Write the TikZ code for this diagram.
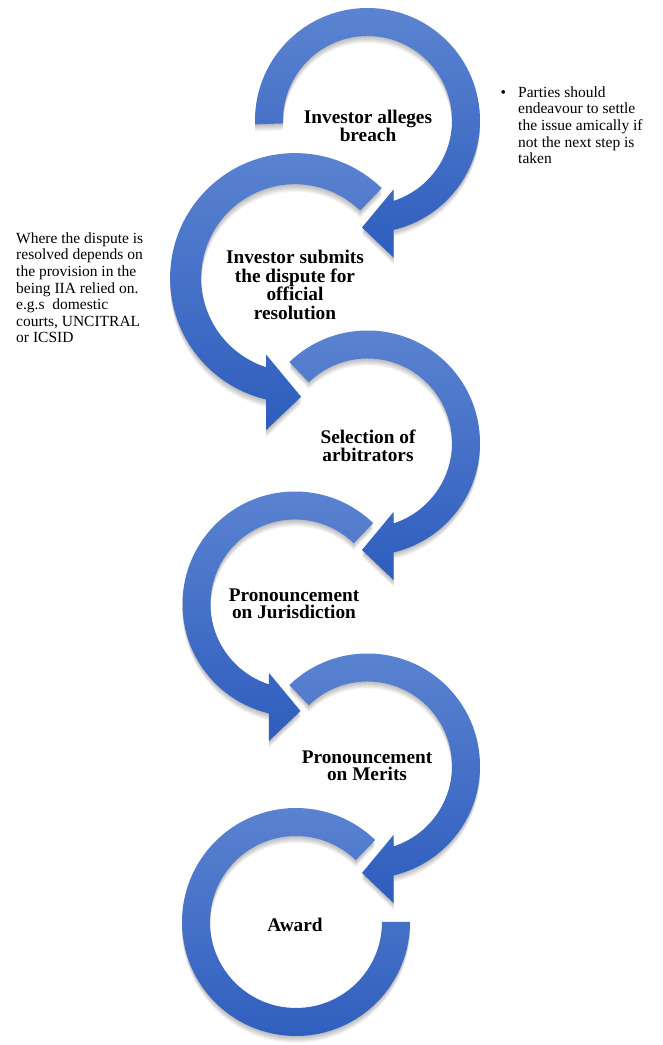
\documentclass[tikz,border=0pt]{standalone}
\usepackage{fontspec}
\setmainfont{Liberation Serif}
\usetikzlibrary{positioning}

\definecolor{ringtop}{RGB}{92,132,209}
\definecolor{ringbottom}{RGB}{46,93,189}

% ring with arrow head at the bottom, opened at angle #1
\newcommand{\arrowring}[1]{(#1:112.5) arc[start angle=#1, end angle=-76.6, radius=112.5] -- (26,-137) -- (-5.5,-107) -- (26,-69) -- (-72:84.5) arc[start angle=-72, end angle=#1, radius=84.5] -- cycle}
% last ring, no head
\newcommand{\plainring}{(46:114) arc[start angle=46, end angle=360, radius=114] -- (0:86) arc[start angle=360, end angle=46, radius=86] -- cycle}

\begin{document}
\begin{tikzpicture}[x=1pt, y=1pt,
    ring/.style={top color=ringtop, bottom color=ringbottom, draw=none},
    ringshadow/.style={fill=black, opacity=0.04, draw=none},
    steplabel/.style={font=\fontsize{19.3}{17.5}\selectfont\bfseries, align=center, inner sep=0pt},
    note/.style={font=\fontsize{15.5}{16.6}\selectfont, inner sep=0pt, anchor=north west}]
    \path[fill=white] (0,0) rectangle (662,1045);
    \useasboundingbox (0,0) rectangle (662,1045);

    % step 1
    \begin{scope}[shift={(367.5,924.5)}]
        \foreach \k in {1,...,7}
            \fill[ringshadow, yshift=-\k pt] \arrowring{182};
        \path[ring] \arrowring{182};
    \end{scope}
    % step 2
    \begin{scope}[shift={(295,767)}, xscale=-1.11, yscale=1.11]
        \foreach \k in {1,...,7}
            \fill[ringshadow, yshift=-\k pt] \arrowring{134};
        \path[ring] \arrowring{134};
    \end{scope}
    % step 3
    \begin{scope}[shift={(367.5,602)}]
        \foreach \k in {1,...,7}
            \fill[ringshadow, yshift=-\k pt] \arrowring{134};
        \path[ring] \arrowring{134};
    \end{scope}
    % step 4
    \begin{scope}[shift={(295,441)}, xscale=-1]
        \foreach \k in {1,...,7}
            \fill[ringshadow, yshift=-\k pt] \arrowring{134};
        \path[ring] \arrowring{134};
    \end{scope}
    % step 5
    \begin{scope}[shift={(367.5,279)}]
        \foreach \k in {1,...,7}
            \fill[ringshadow, yshift=-\k pt] \arrowring{134};
        \path[ring] \arrowring{134};
    \end{scope}
    % step 6
    \begin{scope}[shift={(296,123)}]
        \foreach \k in {1,...,7}
            \fill[ringshadow, yshift=-\k pt] \plainring;
        \path[ring] \plainring;
    \end{scope}

    \node[steplabel] at (368,919)(breach){Investor alleges\\breach};
    \node[steplabel, font=\fontsize{19.3}{18.5}\selectfont\bfseries] at (295,760)(submits){Investor submits\\the dispute for\\official\\resolution};
    \node[steplabel] at (368,599)(selection){Selection of\\arbitrators};
    \node[steplabel] at (294,441)(jurisdiction){Pronouncement\\on Jurisdiction};
    \node[steplabel] at (367,279)(merits){Pronouncement\\on Merits};
    \node[steplabel] at (295,120.5)(award){Award};

    \node[note] at (500.3,959.6)(amicable){\begin{tabular}{@{}l@{\hspace{12.3pt}}l@{}}
        \textbullet & Parties should\\
        & endeavour to settle\\
        & the issue amically if\\
        & not the next step is\\
        & taken
    \end{tabular}};
    % bullet sits mostly off the page
    \node[note] at (-4.6,813.6)(forum){\begin{tabular}{@{}l@{\hspace{15.2pt}}l@{}}
        \textbullet & Where the dispute is\\
        & resolved depends on\\
        & the provision in the\\
        & being IIA relied on.\\
        & e.g.s\ \ domestic\\
        & courts, UNCITRAL\\
        & or ICSID
    \end{tabular}};
\end{tikzpicture}
\end{document}
